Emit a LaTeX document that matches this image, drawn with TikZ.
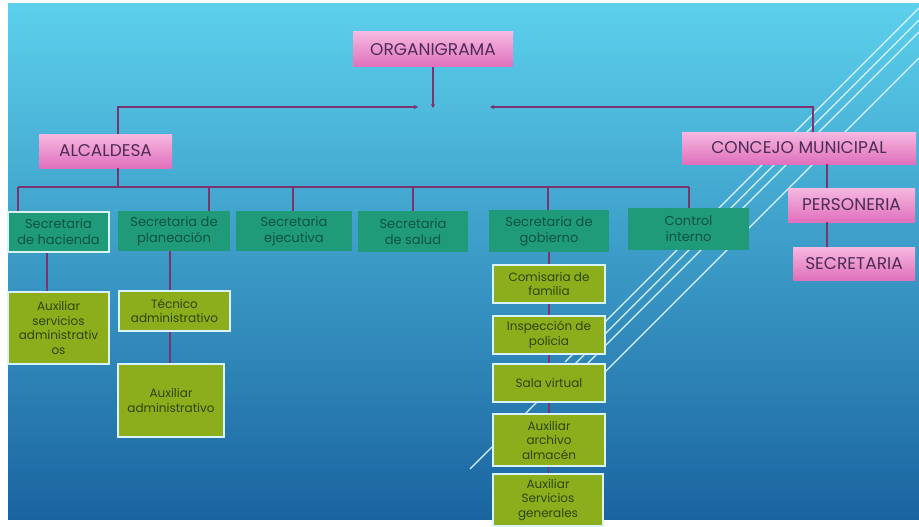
\documentclass[tikz,border=0pt]{standalone}
\usepackage{fontspec}
\setmainfont{Poppins}
\usetikzlibrary{arrows.meta}
\usetikzlibrary{calc}

\definecolor{skytop}{HTML}{5CD0EC}
\definecolor{skymid}{HTML}{3498CB}
\definecolor{skybot}{HTML}{1A64A0}
\definecolor{pinktop}{HTML}{F6B8E0}
\definecolor{pinkbot}{HTML}{E070BC}
\definecolor{pinktext}{HTML}{4E2C55}
\definecolor{tealbox}{HTML}{1F9B7A}
\definecolor{tealtext}{HTML}{0E5442}
\definecolor{limebox}{HTML}{8CAE1C}
\definecolor{limetext}{HTML}{2C460B}
\definecolor{linkcol}{HTML}{7A3470}

\begin{document}
\begin{tikzpicture}[x=1pt, y=-1pt,
        pink_style/.style={rectangle, inner sep=0pt, top color=pinktop, bottom color=pinkbot, text=pinktext, font=\fontsize{17}{20}\selectfont},
        teal_style/.style={rectangle, inner sep=0pt, fill=tealbox, text=tealtext, align=center, font=\fontsize{13}{16}\selectfont},
        lime_style/.style={rectangle, inner sep=0pt, fill=limebox, draw=white!85!cyan, line width=1.6pt, text=limetext, align=center, font=\fontsize{12}{14.5}\selectfont},
        edge_style/.style={draw=linkcol, line width=1.3pt},
        arrow_style/.style={edge_style, -{Stealth[length=4pt,width=4pt]}},
        deco_style/.style={draw=white!85!cyan, line width=1.3pt}]

        \useasboundingbox (0,0) rectangle (919,527);
        \fill[white] (0,0) rectangle (919,527);
        \shade[top color=skytop, middle color=skymid, bottom color=skybot] (8,4) rectangle (919,519);

        % white stripes
        \draw [deco_style] (565,362) -- (919,8);
        \draw [deco_style] (470,469) -- (919,20);
        \draw [deco_style] (580,371) -- (919,32);
        \draw [deco_style] (590,387) -- (919,58);

        \node [pink_style, minimum width=160pt, minimum height=35pt](org) at (433,49.5) {ORGANIGRAMA};

        \node [pink_style, minimum width=133pt, minimum height=34pt](alc) at (105.5,151) {ALCALDESA};

        \node [pink_style, minimum width=234pt, minimum height=32pt](con) at (799,148) {CONCEJO MUNICIPAL};

        \node [pink_style, minimum width=127pt, minimum height=34pt](per) at (851.5,205) {PERSONERIA};

        \node [pink_style, minimum width=122pt, minimum height=33pt](sec) at (854,263.5) {SECRETARIA};

        \node [teal_style, draw=white!85!cyan, line width=1.6pt, minimum width=101pt, minimum height=40pt](hac) at (58.5,232) {Secretaria\\de hacienda};

        \node [teal_style, minimum width=112pt, minimum height=40pt](pla) at (174,231) {Secretaria de\\planeación};

        \node [teal_style, minimum width=116pt, minimum height=40pt](eje) at (294,231) {Secretaria\\ejecutiva};

        \node [teal_style, minimum width=110pt, minimum height=41pt](sal) at (413,231.5) {Secretaria\\de salud};

        \node [teal_style, minimum width=120pt, minimum height=42pt](gob) at (549,231) {Secretaria de\\gobierno};

        \node [teal_style, minimum width=121pt, minimum height=42pt](ctl) at (688.5,229) {Control\\interno};

        \node [lime_style, minimum width=101pt, minimum height=72pt](aux1) at (58.5,328) {Auxiliar\\servicios\\administrativ\\os};

        \node [lime_style, minimum width=111pt, minimum height=40pt](tec) at (174.5,311) {Técnico\\administrativo};

        \node [lime_style, minimum width=106pt, minimum height=73pt](aux2) at (171,400.5) {Auxiliar\\administrativo};

        \node [lime_style, minimum width=112pt, minimum height=38pt](com) at (549,284) {Comisaria de\\familia};

        \node [lime_style, minimum width=112pt, minimum height=38pt](ins) at (549,335) {Inspección de\\policia};

        \node [lime_style, minimum width=112pt, minimum height=38pt](sala) at (549,383) {Sala virtual};

        \node [lime_style, minimum width=112pt, minimum height=52pt](arch) at (549,440) {Auxiliar\\archivo\\almacén};

        \node [lime_style, minimum width=110pt, minimum height=52pt](serv) at (548,500) {Auxiliar\\Servicios\\generales};

        % top level
        \coordinate (mid) at (433,108);
        \coordinate (ltop) at (118,107);
        \coordinate (lend) at (418,107);
        \coordinate (rtop) at (813,107);
        \coordinate (rend) at (490,107);

        \draw [arrow_style] (org) -- (mid);

        \draw [arrow_style] (alc.north -| ltop) -- (ltop) -- (lend);

        \draw [arrow_style] (con.north -| rtop) -- (rtop) -- (rend);

        % bus under the mayor
        \coordinate (bus) at (118,187);
        \coordinate (bl) at (18,187);
        \coordinate (br) at (689,187);

        \draw [edge_style] (alc.south -| bus) -- (bus);

        \draw [edge_style] (bl) -- (br);

        \foreach \n/\x in {hac/18, pla/209, eje/293, sal/413, gob/548, ctl/689}
            \draw [edge_style] (\x,187) -- (\n.north -| \x,187);

        \draw [edge_style] ([xshift=-11.5pt]hac.south) -- ([xshift=-11.5pt]aux1.north);

        \draw [edge_style] ([xshift=-4pt]pla.south) -- ([xshift=-4.5pt]tec.north);

        \draw [edge_style] ([xshift=-4.5pt]tec.south) -- ([xshift=-1pt]aux2.north);

        \foreach \a/\b in {gob/com, com/ins, ins/sala, sala/arch, arch/serv}
            \draw [edge_style] (\a) -- (\b);

        % council side
        \draw [edge_style] ([xshift=28pt]con.south) -- ([xshift=-24.5pt]per.north);

        \draw [edge_style] ([xshift=-24.5pt]per.south) -- ([xshift=-27pt]sec.north);

        \end{tikzpicture}
\end{document}
